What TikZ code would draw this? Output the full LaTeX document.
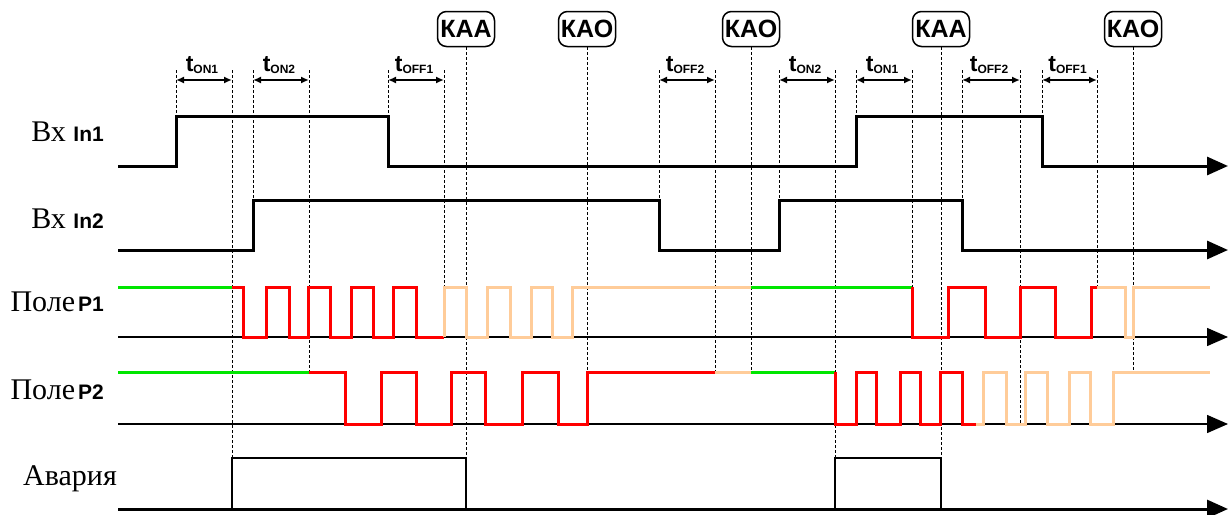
\documentclass[tikz,border=0pt]{standalone}
\usepackage{fontspec}
\setmainfont{Liberation Serif}
\setsansfont{Liberation Sans}
\usetikzlibrary{arrows.meta}

\definecolor{sigon}{RGB}{0,230,0}
\definecolor{sigalarm}{RGB}{255,0,0}
\definecolor{sigoff}{RGB}{255,204,153}

\newcommand{\chname}[1]{{\sffamily\bfseries\fontsize{21}{22}\selectfont #1}}
\newcommand{\tdelay}[1]{{\sffamily\bfseries\fontsize{23}{24}\selectfont t\raisebox{-2pt}{\fontsize{12}{12}\selectfont #1}}}

\begin{document}
\begin{tikzpicture}[x=1pt, y=-1pt,
    timeaxis/.style={line width=1.5pt, -{Triangle[length=21pt, width=18pt]}},
    inwire/.style={line width=3pt, -{Triangle[length=21pt, width=18pt]}},
    sig/.style={line width=3pt},
    guide/.style={line width=1pt, dash pattern=on 3pt off 2pt},
    delayspan/.style={line width=2.5pt, {Latex[length=8pt, width=7pt]}-{Latex[length=8pt, width=7pt]}},
    cmdbox/.style={draw, line width=1.5pt, rounded corners=9pt, minimum width=57pt,
                   minimum height=35pt, inner sep=0pt, font=\sffamily\bfseries\fontsize{25}{26}\selectfont},
    chlabel/.style={anchor=base east, inner sep=0pt, font=\fontsize{30}{32}\selectfont}]
  \useasboundingbox (0,0) rectangle (1228,514);

  % channel names
  \node[chlabel] (lin1) at (104,141) {Вх \chname{In1}};
  \node[chlabel] (lin2) at (104,228) {Вх \chname{In2}};
  \node[chlabel] (lp1) at (104,311) {Поле\hspace{3pt}\chname{P1}};
  \node[chlabel] (lp2) at (104,399) {Поле\hspace{3pt}\chname{P2}};
  \node[chlabel, anchor=base west] (lav) at (23,485) {Авария};

  % commands
  \foreach \x/\c/\y in {466/КАА/458, 587/КАО/372, 751/КАО/372, 941/КАА/458, 1133/КАО/372} {
    \node[cmdbox] (k\x) at (\x,29) {\c};
    \draw[guide] (k\x.south) -- (\x,\y);
  }

  % delays
  \foreach \a/\b/\ya/\yb/\t in {176/232/116/458/ON1, 253/309/200/372/ON2, 388/444/116/287/OFF1,
                                659/715/200/372/OFF2, 779/835/200/458/ON2, 856/912/116/287/ON1,
                                962/1020/200/424/OFF2, 1042/1097/116/287/OFF1} {
    \draw[guide] (\a,70) -- (\a,\ya);
    \draw[guide] (\b,70) -- (\b,\yb);
    \draw[delayspan] (\a,80) -- (\b,80);
    \node[anchor=base, inner sep=0pt] (t\a) at ({(\a+\b)/2-2},71) {\tdelay{\t}};
  }

  % inputs
  \draw[inwire] (118,166) -- (176,166) -- (176,116) -- (388,116) -- (388,166) -- (856,166)
    -- (856,116) -- (1042,116) -- (1042,166) -- (1228,166);
  \draw[inwire] (118,250) -- (253,250) -- (253,200) -- (659,200) -- (659,250) -- (779,250)
    -- (779,200) -- (962,200) -- (962,250) -- (1228,250);

  % fields
  \draw[timeaxis] (118,337) -- (1228,337);
  \draw[timeaxis] (118,424) -- (1228,424);

  \draw[sig, sigon] (118,287) -- (232,287);
  \draw[sig, sigalarm] (232,287) -- (243,287) |- (266,337) |- (289,287) |- (308,337) |- (330,287)
    |- (351,337) |- (373,287) |- (393,337) |- (416,287) |- (444,337);
  \draw[sig, sigoff] (444,337) |- (466,287) |- (487,337) |- (510,287) |- (531,337) |- (552,287)
    |- (572,337) |- (751,287);
  \draw[sig, sigon] (751,287) -- (912,287);
  \draw[sig, sigalarm] (912,287) |- (948,337) |- (985,287) |- (1020,337) |- (1055,287)
    |- (1091,337) |- (1097,287);
  \draw[sig, sigoff] (1097,287) -- (1125,287) |- (1133,337) |- (1210,287);

  \draw[sig, sigon] (118,372) -- (309,372);
  \draw[sig, sigalarm] (309,372) -- (345,372) |- (381,424) |- (416,372) |- (451,424) |- (485,372)
    |- (522,424) |- (558,372) |- (587,424) |- (715,372);
  \draw[sig, sigoff] (715,372) -- (751,372);
  \draw[sig, sigon] (751,372) -- (835,372);
  \draw[sig, sigalarm] (835,372) |- (856,424) |- (876,372) |- (900,424) |- (920,372)
    |- (940,424) |- (962,372) |- (976,424);
  \draw[sig, sigoff] (976,424) -- (983,424) |- (1006,372) |- (1025,424) |- (1047,372)
    |- (1069,424) |- (1090,372) |- (1113,424) |- (1210,372);

  % alarm
  \draw[inwire] (118,509) -- (1228,509);
  \draw[line width=2pt] (232,509) -- (232,458) -- (466,458) -- (466,509);
  \draw[line width=2pt] (835,509) -- (835,458) -- (941,458) -- (941,509);
\end{tikzpicture}
\end{document}
